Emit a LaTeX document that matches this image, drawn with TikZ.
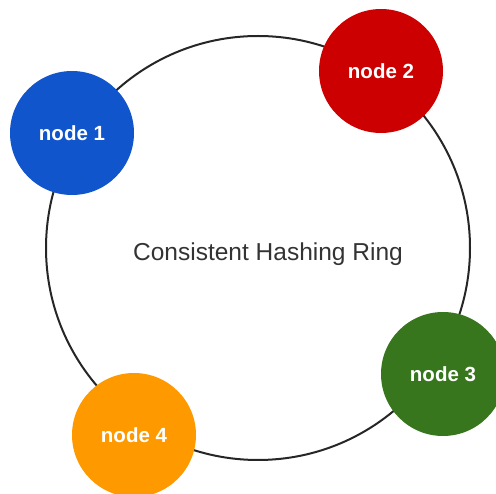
\documentclass[tikz,border=0pt]{standalone}
\usepackage{fontspec}
\setmainfont{Liberation Sans}
\definecolor{nblue}{HTML}{1155CC}
\definecolor{nred}{HTML}{CC0000}
\definecolor{ngreen}{HTML}{38761D}
\definecolor{norange}{HTML}{FF9900}
\definecolor{ringc}{HTML}{262626}
\definecolor{titlec}{HTML}{333333}
\tikzset{
  server/.style={circle, minimum size=124pt, inner sep=0pt, draw=none, text=white,
    font=\fontsize{20.5}{24}\selectfont\bfseries},
  ringline/.style={draw=ringc, line width=2pt},
}
\begin{document}
\begin{tikzpicture}[x=1pt,y=-1pt]
\useasboundingbox (0,0) rectangle (496,494);
\node[circle, ringline, minimum size=424pt, inner sep=0pt] (ring) at (258,248) {};
\node[text=titlec, font=\fontsize{24.5}{28}\selectfont] (title) at (268,254) {Consistent Hashing Ring};
\node[server, fill=nblue] (n1) at (72,133) {node 1};
\node[server, fill=nred] (n2) at (381,71) {node 2};
\node[server, fill=ngreen] (n3) at (443,374) {node 3};
\node[server, fill=norange] (n4) at (134,435) {node 4};
\end{tikzpicture}
\end{document}
